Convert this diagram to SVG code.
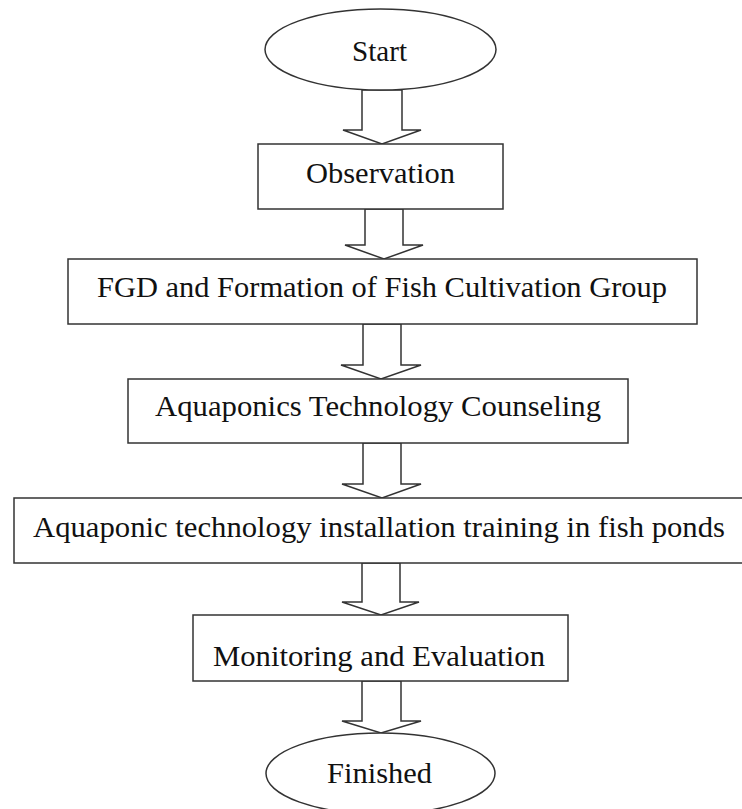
<svg xmlns="http://www.w3.org/2000/svg" width="742" height="809" viewBox="0 0 742 809">
<style>
.shape{fill:#ffffff;stroke:#333333;stroke-width:1.5}
.arrow{fill:#ffffff;stroke:#333333;stroke-width:1.5;stroke-linejoin:miter}
.lbl{font-family:"Liberation Serif","Times New Roman",serif;font-size:29px;fill:#111111}
</style>
<rect width="742" height="809" fill="#ffffff"/>
<g id="connectors">
<polygon class="arrow" points="362,90 402,90 402,130 421,130 382,144 343,130 362,130"/>
<polygon class="arrow" points="365,209 403,209 403,245 423,245 384,259 345,245 365,245"/>
<polygon class="arrow" points="363,324 401,324 401,365 421,365 381,379 341,365 363,365"/>
<polygon class="arrow" points="363,443 401,443 401,484 421,484 382,498 342,484 363,484"/>
<polygon class="arrow" points="362,563 400,563 400,602 419,602 381,615 342,602 362,602"/>
<polygon class="arrow" points="362,681 401,681 401,721 421,721 381,733 342,721 362,721"/>
</g>
<g id="start">
<ellipse class="shape" cx="380.5" cy="49.5" rx="115.5" ry="40.5"/>
<text class="lbl" x="352" y="61" textLength="55" lengthAdjust="spacingAndGlyphs">Start</text>
</g>
<g id="observation">
<rect class="shape" x="258" y="144" width="245" height="65"/>
<text class="lbl" x="306" y="183" textLength="149" lengthAdjust="spacingAndGlyphs">Observation</text>
</g>
<g id="fgd">
<rect class="shape" x="68" y="259" width="629" height="65"/>
<text class="lbl" x="97" y="297" textLength="570" lengthAdjust="spacingAndGlyphs">FGD and Formation of Fish Cultivation Group</text>
</g>
<g id="counseling">
<rect class="shape" x="128" y="379" width="500" height="64"/>
<text class="lbl" x="155" y="416" textLength="446" lengthAdjust="spacingAndGlyphs">Aquaponics Technology Counseling</text>
</g>
<g id="installation">
<rect class="shape" x="14" y="498" width="740" height="65"/>
<text class="lbl" x="33" y="537" textLength="692" lengthAdjust="spacingAndGlyphs">Aquaponic technology installation training in fish ponds</text>
</g>
<g id="monitoring">
<rect class="shape" x="193" y="615" width="375" height="66"/>
<text class="lbl" x="213" y="666" textLength="332" lengthAdjust="spacingAndGlyphs">Monitoring and Evaluation</text>
</g>
<g id="finished">
<ellipse class="shape" cx="380.5" cy="773.5" rx="114.5" ry="40.5"/>
<text class="lbl" x="327" y="783" textLength="105" lengthAdjust="spacingAndGlyphs">Finished</text>
</g>
</svg>
